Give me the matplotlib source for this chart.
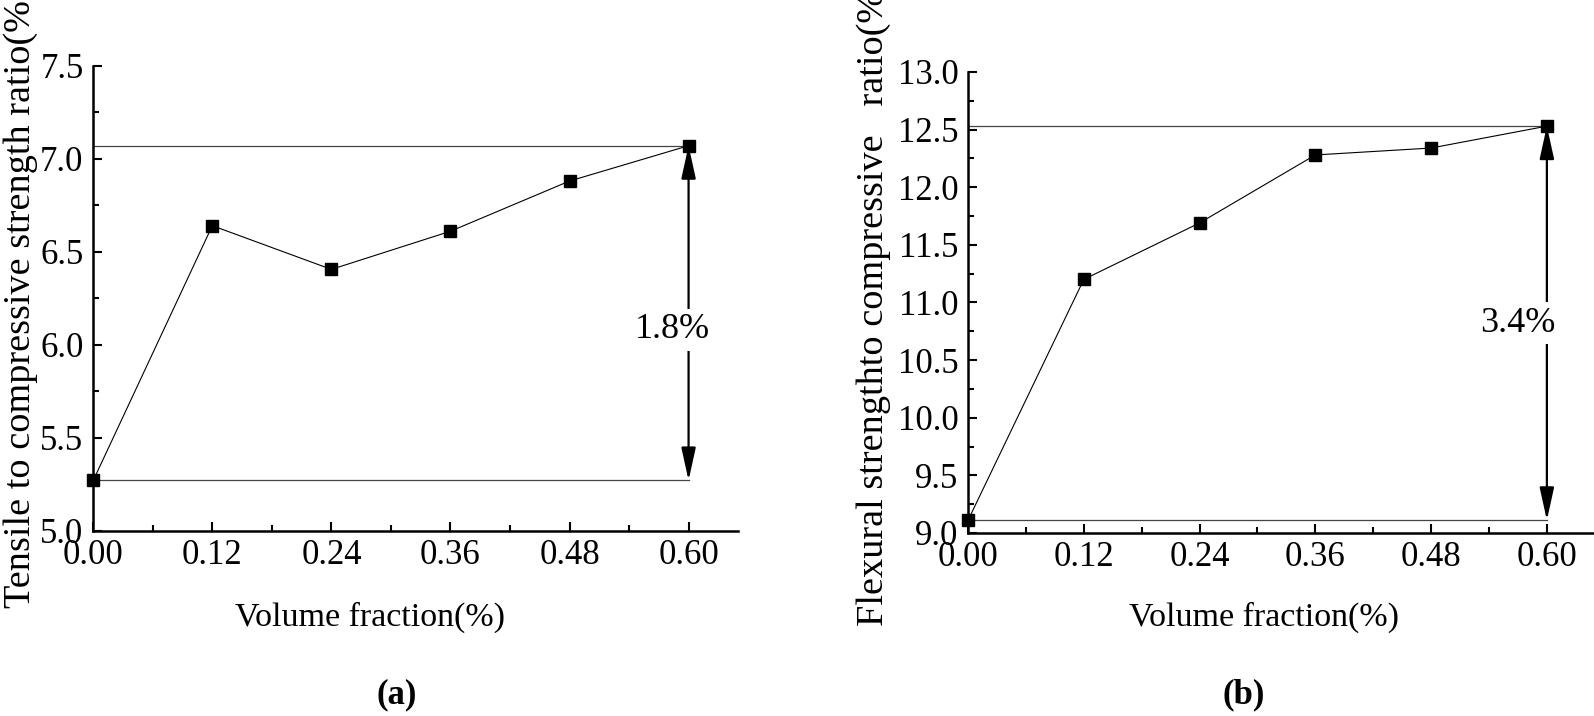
import matplotlib.pyplot as plt
from matplotlib.ticker import MultipleLocator

plt.rcParams['font.family'] = ['Liberation Serif', 'DejaVu Serif']

# data
vol = [0.00, 0.12, 0.24, 0.36, 0.48, 0.60]
tensile_ratio = [5.27, 6.64, 6.405, 6.61, 6.88, 7.07]
flexural_ratio = [9.11, 11.2, 11.69, 12.28, 12.34, 12.53]

xticks = [0.00, 0.12, 0.24, 0.36, 0.48, 0.60]
xtick_labels = ['0.00', '0.12', '0.24', '0.36', '0.48', '0.60']

labels_a = ['Tensile to compressive strength ratio(%)', '1.8%', '(a)']
labels_b = ['Flexural strengthto compressive   ratio(%)', '3.4%', '(b)']


def style_axes(ax, ylim, ymajor):
    ax.set_xlim(0, 0.65)
    ax.set_ylim(*ylim)
    ax.set_xticks(xticks)
    ax.set_xticklabels(xtick_labels)
    ax.xaxis.set_minor_locator(MultipleLocator(0.06))
    ax.yaxis.set_major_locator(MultipleLocator(ymajor))
    ax.yaxis.set_minor_locator(MultipleLocator(ymajor / 2))
    ax.yaxis.set_major_formatter('{x:.1f}')
    for s in ['top', 'right']:
        ax.spines[s].set_visible(False)
    for s in ['left', 'bottom']:
        ax.spines[s].set_linewidth(1.8)
    ax.tick_params(which='major', direction='in', length=6.5, width=1.5,
                   labelsize=25)
    ax.tick_params(which='minor', direction='in', length=4, width=1.5)
    ax.tick_params(axis='x', pad=6)
    ax.tick_params(axis='y', pad=7)


def draw_panel(ax, y, texts, txt_dx, txt_dy, lab_x, xlab_x, xlab_y):
    ax.plot(vol, y, '-', color='black', lw=0.8, marker='s', ms=8,
            mfc='black', mec='black', clip_on=False, zorder=5)
    ymin, ymax = y[0], y[-1]
    ax.plot([vol[0], vol[-1]], [ymax, ymax], color='#444444', lw=0.9,
            clip_on=False)
    ax.plot([vol[0], vol[-1]], [ymin, ymin], color='#444444', lw=0.9,
            clip_on=False)
    ax.annotate('', xy=(vol[-1], ymax), xytext=(vol[-1], ymin),
                arrowprops=dict(arrowstyle='<|-|>,head_length=1.0,head_width=0.22',
                                color='black', lw=1.6, mutation_scale=20,
                                shrinkA=0, shrinkB=0))
    ax.text(vol[-1] + txt_dx, (ymin + ymax) / 2 + txt_dy, texts[1],
            fontsize=26, ha='center', va='center', zorder=6,
            bbox=dict(facecolor='white', edgecolor='none', pad=3))
    ax.text(lab_x, 0.5, texts[0], transform=ax.transAxes, rotation=90,
            fontsize=27.5, ha='center', va='center')
    ax.text(xlab_x, xlab_y, 'Volume fraction(%)', transform=ax.transAxes,
            fontsize=24.5, ha='center', va='center')


fig = plt.figure(figsize=(15.94, 7.16), dpi=100)
ax1 = fig.add_axes([0.0585, 0.2588, 0.4046, 0.6494])
ax2 = fig.add_axes([0.6073, 0.2556, 0.3934, 0.6439])

style_axes(ax1, (5.0, 7.5), 0.5)
style_axes(ax2, (9.0, 13.0), 0.5)

draw_panel(ax1, tensile_ratio, labels_a, -0.016, -0.09, -0.112, 0.429, -0.186)
draw_panel(ax2, flexural_ratio, labels_b, -0.03, 0.0, -0.15, 0.472, -0.182)

fig.text(0.249, 0.03, labels_a[2], fontsize=25, fontweight='bold',
         ha='center', va='center')
fig.text(0.78, 0.03, labels_b[2], fontsize=25, fontweight='bold',
         ha='center', va='center')

fig.savefig('out.png', dpi=100)
